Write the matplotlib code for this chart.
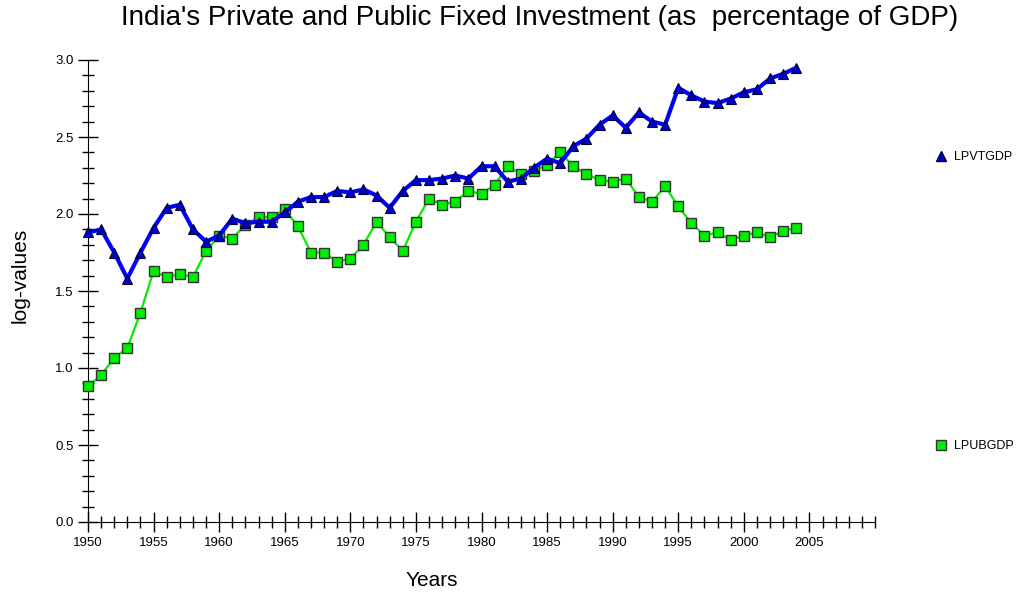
import matplotlib
matplotlib.use("Agg")
import matplotlib.pyplot as plt
from matplotlib.ticker import MultipleLocator
from matplotlib.lines import Line2D

plt.rcParams['font.family'] = ['Liberation Sans', 'DejaVu Sans']

years = list(range(1950, 2005))

# LPVTGDP - private fixed investment (log of % of GDP)
lpvtgdp = [1.88, 1.90, 1.75, 1.58, 1.75, 1.91, 2.04, 2.06, 1.90, 1.82,
           1.86, 1.97, 1.94, 1.95, 1.95, 2.01, 2.08, 2.11, 2.11, 2.15,
           2.14, 2.16, 2.12, 2.04, 2.15, 2.22, 2.22, 2.23, 2.25, 2.23,
           2.31, 2.31, 2.21, 2.23, 2.30, 2.36, 2.33, 2.44, 2.49, 2.58,
           2.64, 2.56, 2.66, 2.60, 2.58, 2.82, 2.77, 2.73, 2.72, 2.75,
           2.79, 2.81, 2.88, 2.91, 2.95]

# LPUBGDP - public fixed investment (log of % of GDP)
lpubgdp = [0.88, 0.955, 1.065, 1.13, 1.36, 1.63, 1.59, 1.61, 1.59, 1.76,
           1.86, 1.84, 1.93, 1.98, 1.98, 2.03, 1.92, 1.75, 1.75, 1.69,
           1.71, 1.80, 1.95, 1.85, 1.76, 1.95, 2.10, 2.06, 2.08, 2.15,
           2.13, 2.19, 2.31, 2.26, 2.28, 2.32, 2.40, 2.31, 2.26, 2.22,
           2.21, 2.23, 2.11, 2.08, 2.18, 2.05, 1.94, 1.86, 1.88, 1.83,
           1.86, 1.88, 1.85, 1.89, 1.91]

fig = plt.figure(figsize=(10.22, 5.93), dpi=100)
ax = fig.add_axes([88 / 1022, 1 - 522 / 593, 787 / 1022, 462 / 593])

ax.plot(years, lpubgdp, color='#00ee00', lw=1.6, marker='s', ms=7.5,
        mfc='#00ee00', mec='#333333', mew=1.0, clip_on=False, zorder=3)
ax.plot(years, lpvtgdp, color='#0000ff', lw=3, marker='^', ms=7.5,
        mfc='#0000cc', mec='#000033', mew=0.8, clip_on=False, zorder=4)

ax.set_xlim(1950, 2010)
ax.set_ylim(0, 3.0)
for s in ['top', 'right']:
    ax.spines[s].set_visible(False)

ax.xaxis.set_major_locator(MultipleLocator(5))
ax.xaxis.set_minor_locator(MultipleLocator(1))
ax.yaxis.set_major_locator(MultipleLocator(0.5))
ax.yaxis.set_minor_locator(MultipleLocator(0.1))
ax.tick_params(which='major', direction='inout', length=14, width=1, labelsize=9.5)
ax.tick_params(which='minor', direction='inout', length=9, width=1)
ax.set_xticks(list(range(1950, 2010, 5)))
ax.set_xticks(list(range(1950, 2011)), minor=True)
ax.set_yticklabels(['%.1f' % v for v in ax.get_yticks()])

fig.text(432 / 1022, 1 - 580 / 593, 'Years', ha='center', va='center', fontsize=15)
fig.text(20 / 1022, 1 - 275 / 593, 'log-values', ha='center', va='center',
         rotation=90, fontsize=15)
fig.text(0.528, 1 - 18 / 593, "India's Private and Public Fixed Investment (as  percentage of GDP)",
         ha='center', va='center', fontsize=20)

h1 = Line2D([], [], ls='none', marker='^', ms=7, mfc='#0000cc', mec='#000033')
h2 = Line2D([], [], ls='none', marker='s', ms=7, mfc='#00ee00', mec='#333333')
leg1 = fig.legend([h1], ['LPVTGDP'], loc='center left', bbox_to_anchor=(0.905, 1 - 157 / 593),
                  frameon=False, fontsize=9, handlelength=0.8, handletextpad=0.6)
leg2 = fig.legend([h2], ['LPUBGDP'], loc='center left', bbox_to_anchor=(0.905, 1 - 446 / 593),
                  frameon=False, fontsize=9, handlelength=0.8, handletextpad=0.6)

fig.savefig('out.png', dpi=100)
